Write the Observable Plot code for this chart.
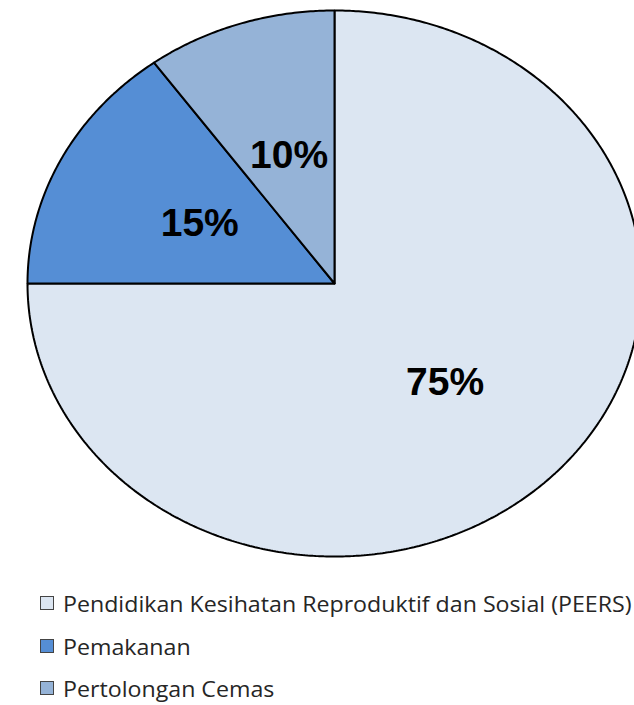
<!DOCTYPE html>
<html>
<head>
<meta charset="utf-8">
<script src="https://cdn.jsdelivr.net/npm/d3@7"></script>
<script src="https://cdn.jsdelivr.net/npm/@observablehq/plot@0.6"></script>
<style>
  html, body { margin: 0; padding: 0; background: #fff; overflow: hidden; }
  #chart svg { display: block; }
  .legend { font-family: "Open Sans", "Noto Sans", sans-serif; font-size: 22px; color: #262626; margin-left: 40px; margin-top: 2px; white-space: nowrap; }
  .legend .row { display: flex; align-items: center; height: 42.5px; }
  .legend .sw { width: 12px; height: 12px; border: 1px solid #444; margin-right: 9px; flex: none; }
  .legend span { display: inline-block; transform-origin: left center; line-height: 1.2; }
</style>
</head>
<body>
<div id="chart"></div>
<div class="legend" id="legend"></div>
<script>
const categories = ["Pendidikan Kesihatan Reproduktif dan Sosial (PEERS)", "Pemakanan", "Pertolongan Cemas"];
const values = [75, 15, 10];
const labels = ["75%", "15%", "10%"];
const colors = ["#dce6f2", "#558ed5", "#95b3d7"];

const total = d3.sum(values);
// slices run clockwise starting at 12 o'clock
let start = 0;
const slices = categories.map((c, i) => {
  const a0 = start, a1 = start + values[i] / total * 2 * Math.PI;
  start = a1;
  return {name: c, a0, a1, label: labels[i]};
});

const pts = [];
for (const s of slices) {
  pts.push({name: s.name, x: 0, y: 0});
  const n = Math.max(2, Math.ceil((s.a1 - s.a0) / (Math.PI / 360)));
  for (let k = 0; k <= n; k++) {
    const a = s.a0 + (s.a1 - s.a0) * k / n;
    pts.push({name: s.name, x: Math.sin(a), y: Math.cos(a)});
  }
  pts.push({name: s.name, x: 0, y: 0});
}
const labelPts = slices.map(s => {
  const m = (s.a0 + s.a1) / 2;
  return {label: s.label, x: 0.5 * Math.sin(m), y: 0.5 * Math.cos(m)};
});

const chart = Plot.plot({
  width: 634,
  height: 580,
  margin: 0,
  x: {domain: [-1, 1], range: [27, 641], axis: null},
  y: {domain: [-1, 1], range: [556, 10], axis: null},
  color: {domain: categories, range: colors},
  marks: [
    Plot.line(pts, {x: "x", y: "y", z: "name", fill: "name", stroke: "black", strokeWidth: 2, strokeLinejoin: "miter", curve: "linear"}),
    Plot.text(labelPts, {x: "x", y: "y", dx: 2, dy: 2, text: "label", fontSize: 39, fontWeight: "bold", fontFamily: "Liberation Sans, Arial, sans-serif", fill: "black"})
  ]
});
document.getElementById("chart").appendChild(chart);

const leg = d3.select("#legend");
const spans = [];
categories.forEach((c, i) => {
  const row = leg.append("div").attr("class", "row");
  row.append("div").attr("class", "sw").style("background", colors[i]);
  spans.push(row.append("span").text(c).node());
});
const w0 = spans[0].offsetWidth;
const sx = 569 / w0;
spans.forEach(s => { s.style.transform = `scaleX(${sx})`; });
</script>
</body>
</html>
